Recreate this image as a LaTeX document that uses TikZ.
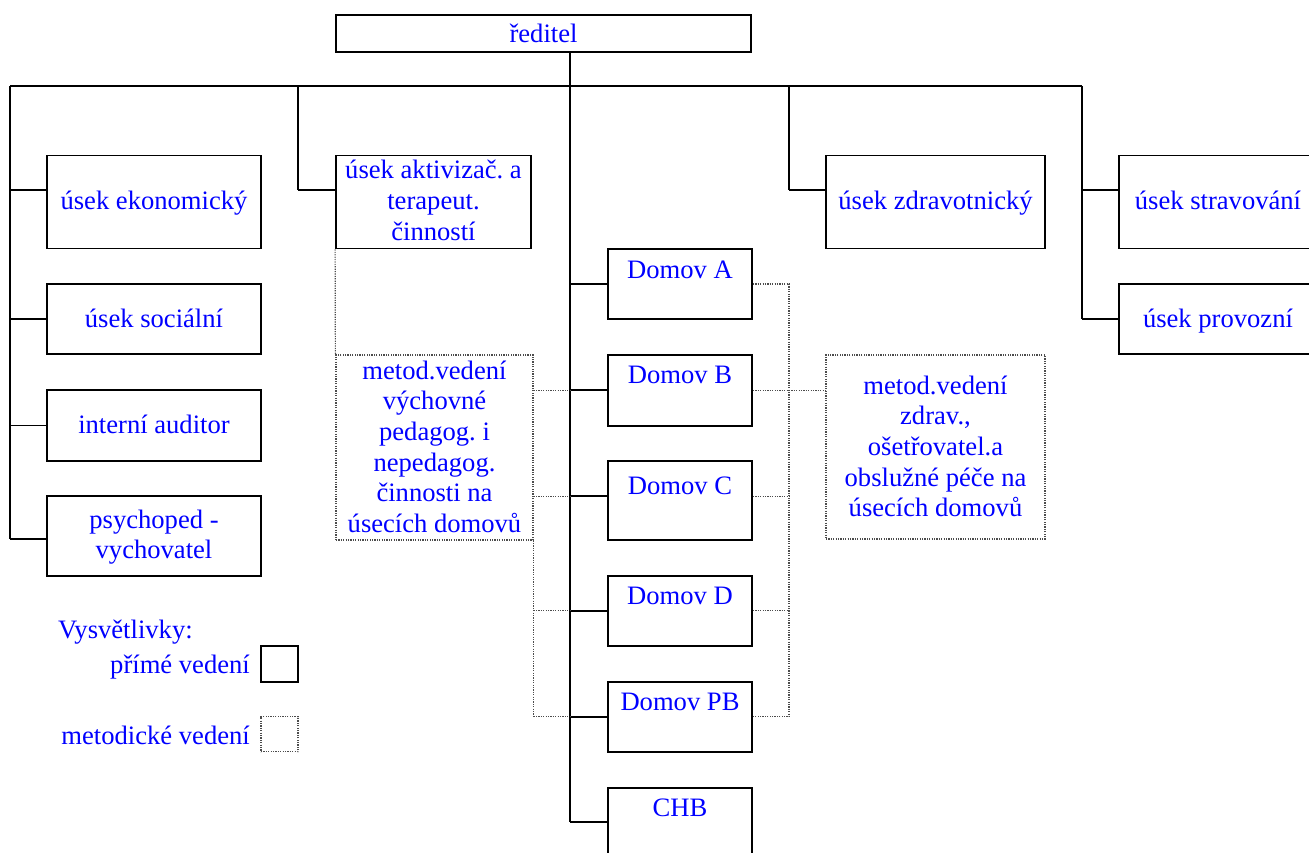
\documentclass[tikz,border=0pt]{standalone}
\usepackage{fontspec}
\setmainfont{Liberation Serif}
\usetikzlibrary{calc}
\frenchspacing
\begin{document}
\begin{tikzpicture}[x=1pt,y=-1pt,
  box/.style={draw=black,line width=1.8pt,rectangle,inner sep=0pt},
  dbox/.style={draw=black!70,line width=1.2pt,dash pattern=on 1.2pt off 1.2pt,rectangle,inner sep=0pt},
  txt/.style={text=blue,font=\fontsize{26.6}{30.7}\selectfont,inner sep=0pt,anchor=base},
  mtxt/.style={txt,align=flush center,text width=#1},
  hl/.style={line width=1.8pt},
  vl/.style={line width=1.2pt},
  dl/.style={draw=black!70,line width=1.2pt,dash pattern=on 1.2pt off 1.2pt}]
\clip (0,0) rectangle (1309,853);
\fill[white] (0,0) rectangle (1309,853);

% boxes
\node[box,minimum width=415pt,minimum height=36.5pt] (red) at (543.5,33.5) {};
\node[box,minimum width=214pt,minimum height=93pt] (ek) at (154,202) {};
\node[box,minimum width=214pt,minimum height=70.5pt] (soc) at (154,319) {};
\node[box,minimum width=214pt,minimum height=71pt] (aud) at (154,425.5) {};
\node[box,minimum width=214pt,minimum height=79.5pt] (psy) at (154,536) {};
\node[box,minimum width=195pt,minimum height=93pt] (akt) at (433.5,202) {};
\node[box,minimum width=219pt,minimum height=93pt] (zdr) at (935.5,202) {};
\node[box,minimum width=198pt,minimum height=93pt] (str) at (1218,202) {};
\node[box,minimum width=198pt,minimum height=70.5pt] (pro) at (1218,319) {};
\node[box,minimum width=144pt,minimum height=70pt] (dA) at (680,284) {};
\node[box,minimum width=144pt,minimum height=70.7pt] (dB) at (680,390.3) {};
\node[box,minimum width=144pt,minimum height=79pt] (dC) at (680,500.2) {};
\node[box,minimum width=144pt,minimum height=70pt] (dD) at (680,610.7) {};
\node[box,minimum width=144pt,minimum height=70pt] (dPB) at (680,716.8) {};
\node[box,minimum width=144pt,minimum height=100pt] (chb) at (680,838) {};
\node[dbox,minimum width=197pt,minimum height=185pt] (dotL) at (434.5,447.5) {};
\node[dbox,minimum width=219pt,minimum height=184pt] (dotR) at (935.5,447) {};
\node[box,minimum width=37pt,minimum height=36pt] (legS) at (279.5,664) {};
\node[dbox,minimum width=37pt,minimum height=35pt] (legD) at (279.5,734.3) {};

% texts
\node[txt] (redT) at (543.5,43) {ředitel};
\node[txt] (ekT) at (154,210) {úsek ekonomický};
\node[txt] (socT) at (154,327) {úsek sociální};
\node[txt] (audT) at (154,433) {interní auditor};
\node[mtxt=210pt] (psyT) at (154,528) {psychoped -\\vychovatel};
\node[mtxt=195pt] (aktT) at (433.5,179) {úsek aktivizač. a\\terapeut.\\činností};
\node[txt] (zdrT) at (935.5,210) {úsek zdravotnický};
\node[txt] (strT) at (1218,210) {úsek stravování};
\node[txt] (proT) at (1218,327) {úsek provozní};
\node[txt] (dAT) at (680,278) {Domov A};
\node[txt] (dBT) at (680,383) {Domov B};
\node[txt] (dCT) at (680,494) {Domov C};
\node[txt] (dDT) at (680,604) {Domov D};
\node[txt] (dPBT) at (680,710) {Domov PB};
\node[txt] (chbT) at (680,816) {CHB};
\node[mtxt=197pt] (dotLT) at (434.5,379) {metod.vedení\\výchovné\\pedagog. i\\nepedagog.\\činnosti na\\úsecích domovů};
\node[mtxt=219pt] (dotRT) at (935.5,394) {metod.vedení\\zdrav.,\\ošetřovatel.a\\obslužné péče na\\úsecích domovů};
\node[txt,anchor=base west] (legT) at (58,638) {Vysvětlivky:};
\node[txt,anchor=base east] (legST) at (250,673) {přímé vedení};
\node[txt,anchor=base east] (legDT) at (250,744) {metodické vedení};

% bus coordinates
\coordinate (busL) at (10,86);
\coordinate (b2) at (298,86);
\coordinate (mt) at (570,86);
\coordinate (b3) at (789,86);
\coordinate (busR) at (1082,86);

% solid connectors
\draw[hl] (busL) -- (busR);
\draw[vl] (red.south -| mt) -- (mt);
\draw[vl] (mt) -- ([yshift=16pt]chb.west -| mt);
\draw[hl] ([yshift=16pt]chb.west -| mt) -- ([yshift=16pt]chb.west);
\draw[vl] (busL) -- ([yshift=-3pt]psy.west -| busL);
\draw[hl] ([yshift=12pt]ek.west -| busL) -- ([yshift=12pt]ek.west);
\draw[hl] (soc.west -| busL) -- (soc.west);
\draw[hl] (aud.west -| busL) -- (aud.west);
\draw[hl] ([yshift=-3pt]psy.west -| busL) -- ([yshift=-3pt]psy.west);
\draw[vl] (b2) -- ([yshift=12pt]akt.west -| b2);
\draw[hl] ([yshift=12pt]akt.west -| b2) -- ([yshift=12pt]akt.west);
\draw[vl] (b3) -- ([yshift=12pt]zdr.west -| b3);
\draw[hl] ([yshift=12pt]zdr.west -| b3) -- ([yshift=12pt]zdr.west);
\draw[vl] (busR) -- (pro.west -| busR);
\draw[hl] ([yshift=12pt]str.west -| busR) -- ([yshift=12pt]str.west);
\draw[hl] (pro.west -| busR) -- (pro.west);
\draw[hl] (dA.west -| mt) -- (dA.west);
\draw[hl] (dB.west -| mt) -- (dB.west);
\draw[hl] ([yshift=4pt]dC.west -| mt) -- ([yshift=4pt]dC.west);
\draw[hl] (dD.west -| mt) -- (dD.west);
\draw[hl] (dPB.west -| mt) -- (dPB.west);

% dotted connectors
\draw[dl] (akt.south west) -- (dotL.north west);
\draw[dl] (dB.west -| dotL.east) -- (dB.west -| mt);
\draw[dl] ([yshift=4pt]dC.west -| dotL.east) -- ([yshift=4pt]dC.west -| mt);
\draw[dl] (dotL.south east) -- (dPB.west -| dotL.east);
\draw[dl] (dD.west -| dotL.east) -- (dD.west -| mt);
\draw[dl] (dPB.west -| dotL.east) -- (dPB.west -| mt);
\draw[dl] (dA.east) -- (dA.east -| b3) -- (dPB.east -| b3) -- (dPB.east);
\draw[dl] (dB.east) -- (dB.east -| dotR.west);
\draw[dl] ([yshift=4pt]dC.east) -- ([yshift=4pt]dC.east -| b3);
\draw[dl] (dD.east) -- (dD.east -| b3);
\end{tikzpicture}
\end{document}
